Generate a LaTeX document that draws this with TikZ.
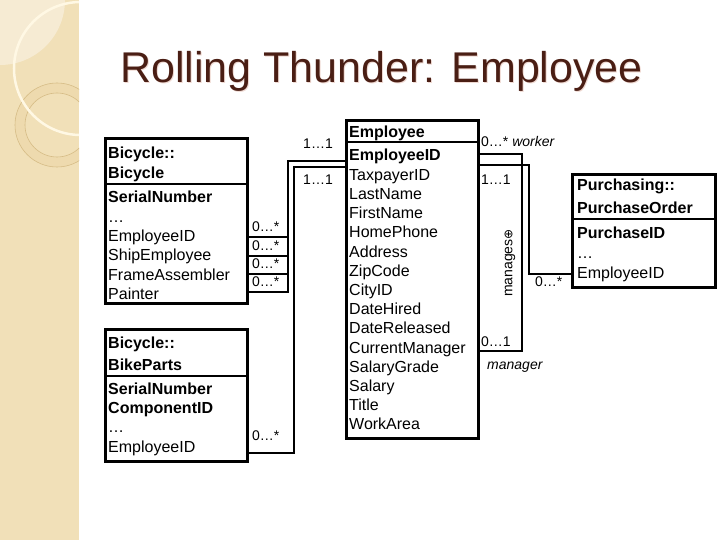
\documentclass[tikz,border=0pt]{standalone}
\usepackage{fontspec}
\setmainfont{Liberation Sans}
\newfontfamily\djv{DejaVu Sans}
\definecolor{sidebar}{HTML}{F1E0B8}
\definecolor{patch}{HTML}{F6EBD3}
\definecolor{ringline}{HTML}{D6BC86}
\definecolor{ringfill}{HTML}{EEDAAE}
\definecolor{arcwhite}{HTML}{FFF8E4}
\definecolor{titlecol}{HTML}{4A1E14}
\definecolor{shadowcol}{HTML}{EFD9D2}
\begin{document}
\begin{tikzpicture}[x=1pt,y=-1pt,
  box/.style={draw=black, line width=3pt, inner sep=0pt},
  divider/.style={draw=black, line width=2.5pt},
  conn/.style={draw=black, line width=2.8pt},
  attr/.style={anchor=base west, inner sep=0pt, font=\fontsize{16}{19}\selectfont},
  battr/.style={anchor=base west, inner sep=0pt, font=\fontsize{16}{19}\selectfont\bfseries},
  mult/.style={anchor=base west, inner sep=0pt, font=\fontsize{14}{16}\selectfont},
  multr/.style={anchor=base east, inner sep=0pt, font=\fontsize{14}{16}\selectfont},
  role/.style={anchor=base west, inner sep=0pt, font=\fontsize{14}{16}\selectfont\itshape}]
\useasboundingbox (0,0) rectangle (720,540);
% sidebar
\fill[sidebar] (0,0) rectangle (79,540);
\begin{scope}
  \clip (0,0) rectangle (79,540);
  \fill[patch] (0,0) circle (65);
  \fill[ringfill, even odd rule] (57,125) circle (42) (57,125) circle (32);
  \draw[ringline, line width=0.6pt] (57,125) circle (42);
  \draw[ringline, line width=0.6pt] (57,125) circle (32);
  \draw[arcwhite, line width=2.5pt] (80.5,68.5) circle (66.5);
\end{scope}
% title
\node[anchor=base west, inner sep=0pt, font=\fontsize{43}{50}\selectfont, text=shadowcol] (titleshadow) at (121,84) {Rolling Thunder: Employee};
\node[anchor=base west, inner sep=0pt, font=\fontsize{43}{50}\selectfont, text=titlecol] (title) at (120,83) {Rolling Thunder: Employee};
% boxes
\node[box, anchor=north west, minimum width=142pt, minimum height=165pt] (bike) at (104,137) {};
\node[box, anchor=north west, minimum width=142pt, minimum height=132pt] (parts) at (104,328) {};
\node[box, anchor=north west, minimum width=132pt, minimum height=318pt] (emp) at (345,119) {};
\node[box, anchor=north west, minimum width=143pt, minimum height=113pt] (po) at (571,173) {};
% dividers
\coordinate (dv1) at (0,184);
\coordinate (dv2) at (0,376);
\coordinate (dv3) at (0,142);
\coordinate (dv4) at (0,219);
\draw[divider] (bike.west |- dv1) -- (bike.east |- dv1);
\draw[divider] (parts.west |- dv2) -- (parts.east |- dv2);
\draw[divider] (emp.west |- dv3) -- (emp.east |- dv3);
\draw[divider] (po.west |- dv4) -- (po.east |- dv4);
% Bicycle texts
\node[battr] (b1) at (108,159) {Bicycle::};
\node[battr] (b2) at (108,179) {Bicycle};
\node[battr] (b3) at (108,203) {SerialNumber};
\foreach \t [count=\i] in {\dots, EmployeeID, ShipEmployee, FrameAssembler, Painter}
  \node[attr] (ba\i) at (108,{203+\i*19.3}) {\t};
% BikeParts texts
\node[battr] (p1) at (108,348) {Bicycle::};
\node[battr] (p2) at (108,370) {BikeParts};
\node[battr] (p3) at (108,394) {SerialNumber};
\node[battr] (p4) at (108,413.3) {ComponentID};
\node[attr] (p5) at (108,432.6) {\dots};
\node[attr] (p6) at (108,452) {EmployeeID};
% Employee texts
\node[battr] (e0) at (349,138) {Employee};
\node[battr] (e1) at (349,161) {EmployeeID};
\foreach \t [count=\i] in {TaxpayerID, LastName, FirstName, HomePhone, Address, ZipCode, CityID, DateHired, DateReleased, CurrentManager, SalaryGrade, Salary, Title, WorkArea}
  \node[attr] (ea\i) at (349,{161+\i*19.2}) {\t};
% PurchaseOrder texts
\node[battr] (o1) at (577,191) {Purchasing::};
\node[battr] (o2) at (577,214) {PurchaseOrder};
\node[battr] (o3) at (577,239) {PurchaseID};
\node[attr] (o4) at (577,258.5) {\dots};
\node[attr] (o5) at (577,278) {EmployeeID};
% connectors: Bicycle -> Employee
\coordinate (ja) at (288,161);
\coordinate (r1) at (0,237);
\coordinate (r2) at (0,256);
\coordinate (r3) at (0,274);
\coordinate (r4) at (0,292);
\draw[conn] (emp.west |- ja) -- (ja) -- (ja |- r4) -- (bike.east |- r4);
\foreach \r in {r1,r2,r3}
  \draw[conn] (bike.east |- \r) -- (ja |- \r);
% BikeParts -> Employee
\coordinate (jb) at (294,167);
\coordinate (r5) at (0,453);
\draw[conn] (emp.west |- jb) -- (jb) -- (jb |- r5) -- (parts.east |- r5);
% self association
\coordinate (jc) at (522,154);
\coordinate (r6) at (0,351);
\draw[conn] (emp.east |- jc) -- (jc) -- (jc |- r6) -- (emp.east |- r6);
% Employee -> PurchaseOrder
\coordinate (jd) at (529,165);
\coordinate (r7) at (0,274);
\draw[conn] (emp.east |- jd) -- (jd) -- (jd |- r7) -- (po.west |- r7);
% multiplicities
\node[multr] (m1) at (333,149) {1\dots1};
\node[multr] (m2) at (333,185) {1\dots1};
\node[mult] (m3) at (252,232) {0\dots*};
\node[mult] (m4) at (252,250) {0\dots*};
\node[mult] (m5) at (252,268) {0\dots*};
\node[mult] (m6) at (252,286) {0\dots*};
\node[mult] (m7) at (252,440) {0\dots*};
\node[mult] (m8) at (481,147) {0\dots* \textit{worker}};
\node[mult] (m9) at (481,185) {1\dots1};
\node[mult] (m10) at (481,346) {0\dots1};
\node[role] (m11) at (487,369) {manager};
\node[mult] (m12) at (535,286) {0\dots*};
\node[rotate=90, inner sep=0pt, font=\fontsize{14}{16}\selectfont] (mg) at (510,263) {manages{\djv\fontsize{12}{14}\selectfont ⊕}};
\end{tikzpicture}
\end{document}
